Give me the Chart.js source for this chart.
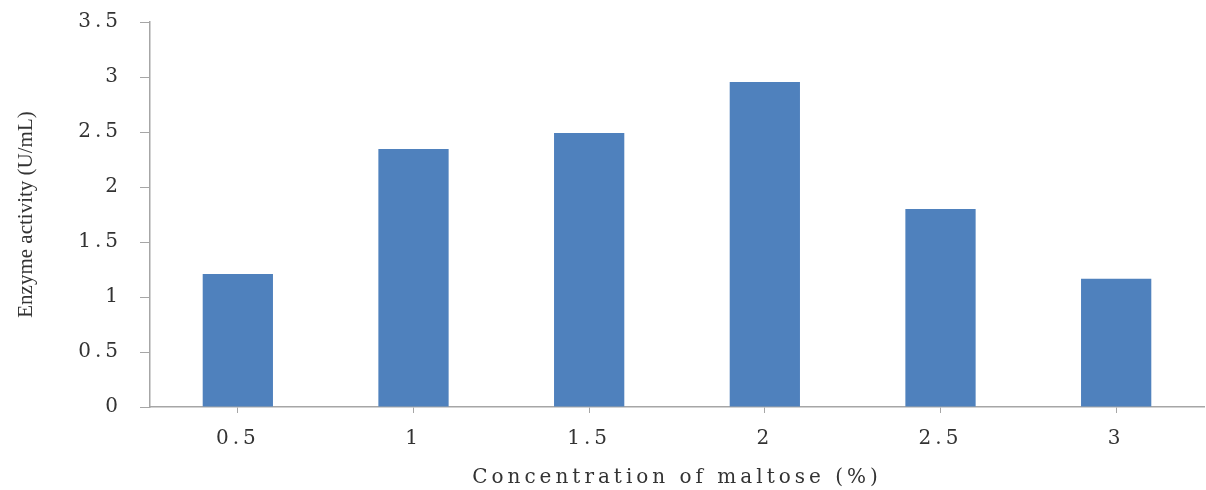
<!DOCTYPE html>
<html>
<head>
<meta charset="utf-8">
<script src="https://cdn.jsdelivr.net/npm/chart.js@4"></script>
<style>
  html, body { margin: 0; padding: 0; background: #fff; }
  #wrap { width: 1206px; height: 490px; }
</style>
</head>
<body>
<div id="wrap"><canvas id="maltoseChart"></canvas></div>
<script>
// enzyme activity vs maltose concentration

const concentrations = ['0.5', '1', '1.5', '2', '2.5', '3']
const activity = [1.21, 2.345, 2.49, 2.955, 1.80, 1.165] // U/mL
const yTicks = [0, 0.5, 1, 1.5, 2, 2.5, 3, 3.5]

const serif = "'Liberation Serif', 'Times New Roman', serif"
const wideSerif = "'DejaVu Serif', 'Liberation Serif', serif"
const axisGrey = '#a6a6a6'

// the original text looks stretched sideways, so space the letters out a bit
function spaced(scale, what, px) {
  if (scale['_sp_' + what]) return
  const orig = scale[what].bind(scale)
  scale[what] = function (...args) {
    const c = scale.ctx
    const prev = c.letterSpacing
    c.letterSpacing = px
    orig(...args)
    c.letterSpacing = prev
  }
  scale['_sp_' + what] = true
}

const ctx = document.getElementById('maltoseChart').getContext('2d')

const maltoseChart = new Chart(ctx, {
  type: 'bar',
  data: {
    labels: concentrations,
    datasets: [{
      label: 'Enzyme activity',
      data: activity,
      backgroundColor: '#4f81bd',
      borderWidth: 0,
      categoryPercentage: 1,
      barPercentage: 0.4
    }]
  },
  options: {
    responsive: true,
    maintainAspectRatio: false,
    animation: false,
    layout: { padding: { top: 22, right: 2, left: 0, bottom: 0 } },
    plugins: {
      legend: { display: false },
      tooltip: { enabled: false }
    },
    scales: {
      x: {
        grid: {
          offset: false,
          drawOnChartArea: false,
          drawTicks: true,
          tickLength: 6,
          color: axisGrey
        },
        border: { color: axisGrey, width: 1.5 },
        ticks: {
          color: '#333',
          font: { family: wideSerif, size: 20 },
          padding: 14
        },
        title: {
          display: true,
          text: 'Concentration of maltose (%)',
          color: '#333',
          font: { family: wideSerif, size: 20 },
          padding: { top: 8, bottom: 0 }
        },
        afterFit: (scale) => {
          scale.height = 83
          spaced(scale, 'drawLabels', '4px')
          spaced(scale, 'drawTitle', '4px')
        }
      },
      y: {
        min: 0,
        max: 3.5,
        afterBuildTicks: (scale) => {
          scale.ticks = yTicks.map(v => ({ value: v }))
        },
        grid: {
          drawOnChartArea: false,
          drawTicks: true,
          tickLength: 10,
          color: axisGrey
        },
        border: { color: axisGrey, width: 1.5 },
        ticks: {
          color: '#333',
          font: { family: wideSerif, size: 20 },
          padding: 18,
          callback: (v) => String(v)
        },
        title: {
          display: true,
          text: 'Enzyme activity (U/mL)',
          color: '#333',
          font: { family: serif, size: 21 },
          padding: { top: 14, bottom: 0 }
        },
        afterFit: (scale) => {
          scale.width = 150
          scale.paddingTop = 0
          scale.paddingBottom = 0
          spaced(scale, 'drawLabels', '4px')
        }
      }
    }
  }
})
</script>
</body>
</html>
